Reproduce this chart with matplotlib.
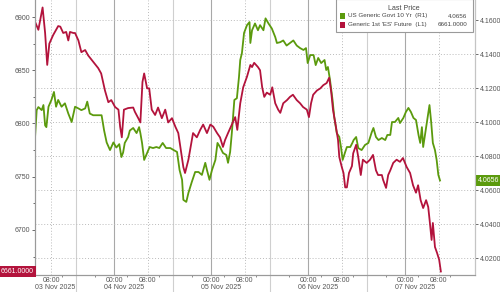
import matplotlib.pyplot as plt
import matplotlib.transforms as mtransforms
from matplotlib.patches import Rectangle
from matplotlib.ticker import MultipleLocator, FixedLocator, FormatStrFormatter

plt.rcParams['font.family'] = ['Liberation Sans', 'DejaVu Sans']

# x = trading hours since 03 Nov 2025 00:00, daily 14:00-15:00 break cut out
# (so one session is 23 h on the axis)
ust_t = [4.2, 4.6, 5.0, 5.8, 6.2, 6.6, 6.9, 7.4, 8.1, 8.7, 9.2, 9.7, 10.5, 11.3, 12.1,
         12.9, 13.7, 14.5, 15.2, 16.1, 16.6, 17.2, 18.0, 19.2, 20.0, 20.6, 21.2, 22.0,
         22.8, 23.5, 24.2, 24.7, 25.1, 25.5, 26.3, 26.7, 27.5, 28.3, 28.9, 29.2, 29.6,
         30.1, 30.6, 31.4, 32.2, 33.0, 33.7, 34.5, 35.3, 36.3, 37.1, 37.9, 38.5, 39.1,
         39.4, 40.1, 40.6, 41.4, 42.2, 43.0, 43.8, 44.6, 45.0, 45.6, 46.2, 47.0, 47.5,
         48.1, 48.8, 49.6, 50.0, 50.5, 50.9, 51.5, 52.1, 52.6, 52.9, 53.3, 53.8, 54.5,
         55.1, 55.3, 55.7, 56.4, 57.1, 57.6, 58.4, 58.9, 59.6, 60.4, 61.2, 61.6, 62.4,
         63.1, 63.9, 64.7, 65.5, 66.3, 67.1, 67.9, 68.5, 68.9, 69.5, 70.3, 70.8, 71.4,
         72.1, 72.9, 73.3, 73.7, 74.2, 74.8, 75.2, 75.8, 76.4, 76.8, 77.2, 77.8, 78.2,
         79.0, 79.5, 79.8, 80.4, 80.9, 81.7, 82.5, 83.3, 84.1, 84.5, 85.1, 85.7, 86.5,
         87.3, 87.8, 88.5, 88.9, 89.6, 90.4, 90.8, 91.6, 92.2, 92.8, 93.4, 94.0, 94.6,
         95.2, 95.6, 96.0, 96.3, 97.0, 97.5, 97.8, 98.2, 98.6, 99.1, 99.5, 99.9, 100.3]
ust_yld = [4.0906, 4.1070, 4.1088, 4.1070, 4.1100, 4.0980, 4.0970, 4.1090, 4.1130, 4.1177,
           4.1090, 4.1130, 4.1090, 4.1110, 4.1050, 4.1000, 4.1090, 4.1080, 4.1070, 4.1080,
           4.1120, 4.1050, 4.1040, 4.1040, 4.1040, 4.0950, 4.0880, 4.0835, 4.0880, 4.0850,
           4.0870, 4.0794, 4.0820, 4.0877, 4.0912, 4.0950, 4.0965, 4.0935, 4.0970, 4.0935,
           4.0877, 4.0777, 4.0806, 4.0853, 4.0847, 4.0853, 4.0847, 4.0877, 4.0847, 4.0847,
           4.0835, 4.0824, 4.0718, 4.0660, 4.0542, 4.0530, 4.0583, 4.0647, 4.0706, 4.0706,
           4.0689, 4.0760, 4.0718, 4.0660, 4.0718, 4.0777, 4.0877, 4.0853, 4.0818, 4.0806,
           4.0760, 4.0824, 4.0935, 4.1130, 4.1140, 4.1265, 4.1365, 4.1406, 4.1524, 4.1570,
           4.1588, 4.1465, 4.1540, 4.1580, 4.1540, 4.1570, 4.1540, 4.1610, 4.1580, 4.1550,
           4.1500, 4.1465, 4.1470, 4.1480, 4.1450, 4.1465, 4.1480, 4.1450, 4.1435, 4.1424,
           4.1435, 4.1347, 4.1394, 4.1394, 4.1335, 4.1377, 4.1347, 4.1365, 4.1306, 4.1324,
           4.1247, 4.1130, 4.1030, 4.0935, 4.0912, 4.0853, 4.0777, 4.0824, 4.0853, 4.0853,
           4.0877, 4.0894, 4.0912, 4.0847, 4.0835, 4.0865, 4.0877, 4.0940, 4.0965, 4.0912,
           4.0894, 4.0906, 4.0894, 4.0924, 4.0924, 4.1000, 4.1000, 4.1024, 4.0994, 4.1024,
           4.1059, 4.1083, 4.1059, 4.1024, 4.1012, 4.0924, 4.0877, 4.0970, 4.0853, 4.0970,
           4.1053, 4.1100, 4.1000, 4.0877, 4.0835, 4.0777, 4.0689, 4.0656]

es_t = [4.2, 5.0, 6.0, 6.6, 7.1, 7.6, 8.5, 9.7, 10.2, 10.9, 11.6, 12.1, 12.5, 13.3, 13.7,
        14.5, 15.2, 16.1, 16.8, 18.0, 19.2, 19.9, 20.8, 21.6, 22.3, 23.2, 24.0, 24.4, 24.8,
        25.3, 26.3, 27.5, 27.9, 28.7, 29.2, 29.7, 30.1, 30.8, 31.3, 31.9, 32.7, 33.4, 34.3,
        35.1, 35.8, 36.7, 37.5, 38.2, 38.8, 39.4, 39.8, 40.6, 41.4, 41.7, 42.6, 43.4, 44.1,
        45.0, 45.8, 46.5, 47.4, 48.1, 48.8, 49.3, 50.0, 50.9, 51.7, 52.2, 52.9, 53.6, 54.5,
        55.3, 55.7, 56.2, 57.1, 57.6, 58.1, 58.6, 59.2, 60.0, 60.5, 61.2, 61.9, 62.4, 63.1,
        64.0, 64.7, 65.4, 66.3, 67.1, 67.8, 68.7, 69.2, 69.7, 70.2, 71.1, 71.9, 72.6, 73.4,
        74.0, 74.5, 74.9, 75.6, 76.1, 76.4, 77.0, 77.4, 77.8, 78.2, 78.7, 79.4, 79.7, 80.4,
        80.9, 81.5, 82.0, 82.9, 83.7, 84.4, 85.1, 85.6, 86.5, 86.8, 87.5, 88.0, 88.5, 89.2,
        90.0, 90.8, 91.5, 92.4, 93.2, 93.9, 94.6, 95.1, 95.7, 96.3, 97.0, 97.5, 97.9, 98.3,
        98.6, 99.1, 99.6, 100.1, 100.5]
es_px = [6895.6, 6888, 6909, 6885, 6855, 6875, 6883, 6891.5, 6891, 6885, 6886, 6878, 6886,
         6885, 6885, 6878, 6867, 6869, 6864, 6858, 6852, 6847, 6831, 6820, 6822, 6815.5,
         6813, 6797, 6787, 6813, 6814.5, 6815, 6811, 6805, 6801, 6839, 6847, 6833, 6833,
         6813, 6808, 6815, 6805, 6813, 6801, 6805, 6797, 6791, 6775, 6759, 6753.5, 6766,
         6784.5, 6791, 6787, 6794, 6799, 6791, 6799, 6797, 6791, 6787, 6778, 6784.5, 6791,
         6799, 6806, 6794, 6819, 6834, 6844, 6855, 6853, 6857, 6853, 6850, 6834, 6825, 6829,
         6827, 6834, 6819, 6813, 6810, 6819, 6822, 6825, 6827, 6822, 6819, 6815.5, 6813,
         6806, 6819, 6827, 6831, 6833, 6836, 6838, 6843, 6829, 6813, 6797, 6784.5, 6768.5,
         6759, 6753.5, 6740, 6740, 6753.5, 6760, 6772, 6780, 6768.5, 6751.6, 6766, 6763,
         6766, 6770.5, 6756, 6751.6, 6751.6, 6747, 6739.5, 6751.6, 6756, 6763, 6766, 6764,
         6767.6, 6759, 6753.5, 6742, 6735, 6742, 6728, 6720.6, 6728, 6721.6, 6706.6,
         6690.6, 6706.6, 6684, 6678.4, 6672, 6661]

ust_last = 4.0656
es_last = 6661.0

day_names = ['03 Nov 2025', '04 Nov 2025', '05 Nov 2025', '06 Nov 2025', '07 Nov 2025']
day_label_t = [9.0, 25.4, 48.4, 71.4, 94.4]
time_ticks = [8, 23, 31, 46, 54, 69, 77, 92, 100]
time_labels = ['08:00'] + ['00:00', '08:00'] * 4

GREEN = '#5b9a0d'
RED = '#b3133c'
W, H = 500, 292

fig = plt.figure(figsize=(5, 2.92), dpi=100)
ax = fig.add_axes([35 / W, 1 - 275 / H, 440 / W, 275 / H])   # yields (right scale)
ax2 = ax.twinx()                                            # ES future (left scale)

# vertical grid: midnight solid, 08:00 dotted, session break light line
for d in range(5):
    ax.axvline(23 * d, color='#a8a8a8', lw=0.8, zorder=0)
    ax.axvline(23 * d + 8, color='#bbbbbb', lw=0.7, ls=(0, (1, 2)), zorder=0)
    if d < 4:
        ax.axvline(23 * d + 14, ymin=-0.062, ymax=1, color='#cfcfcf', lw=0.8,
                   zorder=0, clip_on=False)

ax.plot(ust_t, ust_yld, color=GREEN, lw=1.3)
ax2.plot(es_t, es_px, color=RED, lw=1.3)

ax.set_xlim(4.2, 108.6)
ax.set_ylim(4.010, 4.1718)
ax2.set_ylim(6657.7, 6916)

# right axis (yield)
ax.yaxis.tick_right()
ax.yaxis.set_major_locator(MultipleLocator(0.02))
ax.yaxis.set_major_formatter(FormatStrFormatter('%.4f'))
ax.grid(axis='y', color='#bbbbbb', lw=0.7, ls=(0, (1, 2)))
ax.tick_params(axis='y', direction='out', length=2.5, width=0.6, colors='#555555',
               labelsize=5, pad=1)

# left axis (ES)
ax2.yaxis.tick_left()
ax2.yaxis.set_major_locator(MultipleLocator(50))
ax2.yaxis.set_minor_locator(MultipleLocator(25))
ax2.yaxis.set_major_formatter(FormatStrFormatter('%d'))
ax2.tick_params(axis='y', which='both', direction='out', width=0.6, colors='#555555',
                labelsize=5, pad=1)
ax2.tick_params(axis='y', which='major', length=2.5)
ax2.tick_params(axis='y', which='minor', length=1.5)

# x axis
ax.xaxis.set_major_locator(FixedLocator(time_ticks))
ax.set_xticklabels(time_labels)
ax.xaxis.set_minor_locator(FixedLocator([10.7 + 7.667 * k for k in range(13)]))
ax.tick_params(axis='x', which='major', length=0, colors='#555555', labelsize=5, pad=1.5)
ax.tick_params(axis='x', which='minor', length=1.5, width=0.6, color='#777777')

trans_x = mtransforms.blended_transform_factory(ax.transData, ax.transAxes)
for name, t in zip(day_names, day_label_t):
    ax.text(t, -0.047, name, transform=trans_x, ha='center', va='center',
            fontsize=5, color='#555555')

for a in (ax, ax2):
    a.spines['top'].set_visible(False)
    a.spines['left'].set_color('#9a9a9a')
    a.spines['bottom'].set_color('#9a9a9a')
    a.spines['right'].set_color('#c4c4c4')
    for s in a.spines.values():
        s.set_linewidth(0.8)

# last value boxes
trans_r = mtransforms.blended_transform_factory(fig.transFigure, ax.transData)
ax.text(478 / W, ust_last, f'{ust_last:.4f}', transform=trans_r, ha='left', va='center',
        fontsize=5, color='white',
        bbox=dict(boxstyle='square,pad=0.25', fc=GREEN, ec='none'))
trans_l = mtransforms.blended_transform_factory(fig.transFigure, ax2.transData)
ax2.text(1 / W, es_last, f'{es_last:.4f}', transform=trans_l, ha='left', va='center',
         fontsize=5, color='white',
         bbox=dict(boxstyle='square,pad=0.25', fc=RED, ec='none'))

# legend box
fig.add_artist(Rectangle((336 / W, 1 - 32 / H), 137 / W, 33 / H, transform=fig.transFigure,
                         fc='white', ec='#9a9a9a', lw=0.8))
fig.text(404 / W, 1 - 9 / H, 'Last Price', ha='center', va='center', fontsize=5,
         color='#444444')
rows = [('US Generic Govt 10 Yr  (R1)', f'{ust_last:.4f}', GREEN),
        ("Generic 1st 'ES' Future  (L1)", f'{es_last:.4f}', RED)]
for i, (label, val, col) in enumerate(rows):
    y = 16 + i * 8.5
    fig.add_artist(Rectangle((339.5 / W, 1 - (y + 3) / H), 5.5 / W, 5.5 / H,
                             transform=fig.transFigure, fc=col, ec='none'))
    fig.text(347.5 / W, 1 - y / H, label, ha='left', va='center', fontsize=4.5,
             color='#444444')
    fig.text(467 / W, 1 - y / H, val, ha='right', va='center', fontsize=4.5,
             color='#444444')

fig.savefig('out.png', dpi=100)
